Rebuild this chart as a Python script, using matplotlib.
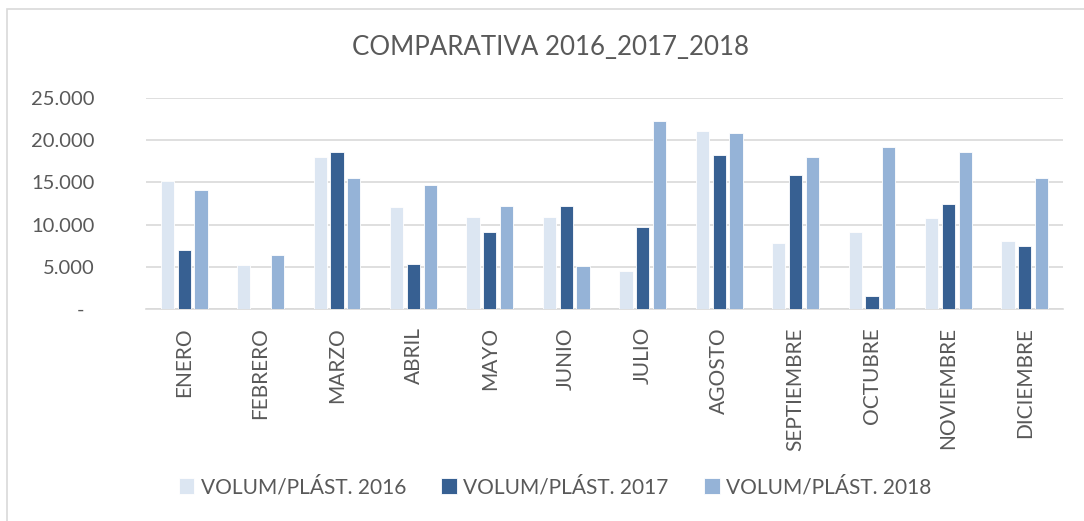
import numpy as np
import matplotlib
matplotlib.use('Agg')
import matplotlib.pyplot as plt
from matplotlib.patches import Rectangle

plt.rcParams['font.family'] = ['Lato', 'DejaVu Sans']

meses = ['ENERO', 'FEBRERO', 'MARZO', 'ABRIL', 'MAYO', 'JUNIO', 'JULIO',
         'AGOSTO', 'SEPTIEMBRE', 'OCTUBRE', 'NOVIEMBRE', 'DICIEMBRE']
v2016 = [15200, 5270, 17990, 12080, 10930, 10900, 4480, 21120, 7840, 9070, 10820, 8040]
v2017 = [7010, 0, 18620, 5350, 9070, 12240, 9710, 18230, 15850, 1510, 12440, 7490]
v2018 = [14060, 6340, 15490, 14700, 12200, 5070, 22230, 20880, 18030, 19180, 18660, 15530]
series = ['VOLUM/PLÁST. 2016', 'VOLUM/PLÁST. 2017', 'VOLUM/PLÁST. 2018']
colores = ['#DCE6F2', '#376092', '#95B3D7']
yticks = [0, 5000, 10000, 15000, 20000, 25000]

txt = '#595959'
W, H = 1084, 521
fig = plt.figure(figsize=(W / 100, H / 100), dpi=100)
ax = fig.add_axes([146 / W, 1 - 309 / H, (1063 - 146) / W, (309 - 98) / H])

x = np.arange(len(meses))
ancho = 0.173
paso = 0.22
for i, (vals, nom, c) in enumerate(zip([v2016, v2017, v2018], series, colores)):
    ax.bar(x + (i - 1) * paso, vals, width=ancho, color=c, label=nom,
           edgecolor='white', linewidth=0.6, zorder=3)

ax.set_xlim(-0.5, len(meses) - 0.5)
ax.set_ylim(0, 25000)
ax.set_yticks(yticks)
ax.set_yticklabels(['-  ' if v == 0 else f'{v:,.0f}'.replace(',', '.') for v in yticks])
ax.set_xticks(x)
ax.set_xticklabels(meses, rotation=90)
ax.tick_params(axis='y', length=0, pad=37, labelsize=14.5, labelcolor=txt)
ax.tick_params(axis='x', length=0, pad=13, labelsize=15, labelcolor=txt)
ax.grid(axis='y', color='#D9D9D9', linewidth=1.2, zorder=0)
for s in ['top', 'right', 'left']:
    ax.spines[s].set_visible(False)
ax.spines['bottom'].set_color('#D9D9D9')
ax.spines['bottom'].set_linewidth(1.2)

fig.text(550 / W, 1 - 47 / H, 'COMPARATIVA 2016_2017_2018', ha='center', va='center',
         fontsize=18.6, color=txt)

fig.legend(loc='center', bbox_to_anchor=(555 / W, 1 - 487 / H), ncol=3, frameon=False,
           fontsize=15, labelcolor=txt, handlelength=0.75, handleheight=0.75,
           handletextpad=0.3, columnspacing=1.7)

fig.patches.append(Rectangle((7 / W, -0.1), 1.2, 1 - 9 / H + 0.1, transform=fig.transFigure,
                             fill=False, edgecolor='#D9D9D9', linewidth=1.2))

fig.savefig('out.png', dpi=100)
